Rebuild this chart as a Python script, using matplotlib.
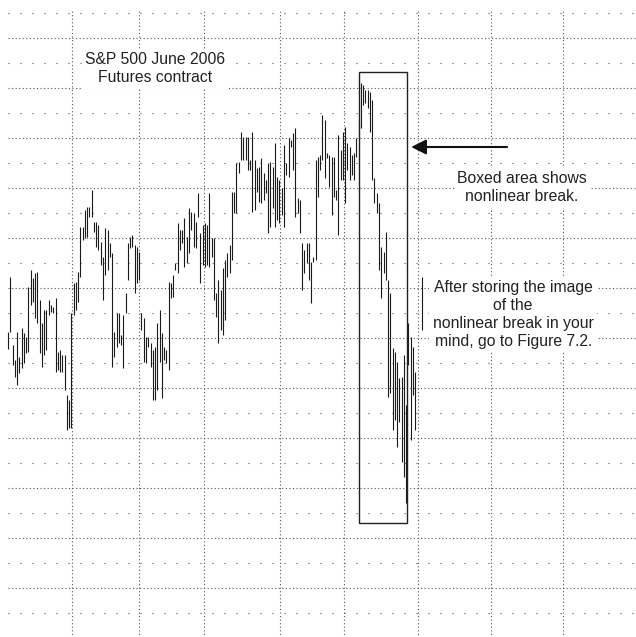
import numpy as np
import matplotlib.pyplot as plt

plt.rcParams['font.family'] = ['Liberation Sans', 'DejaVu Sans']

# daily bars, S&P 500 June 2006 futures, nan = no bar
highs = [1291.2, 1302.2, 1288.6, 1285.6, 1291.2, 1286.2, 1292.0, 1291.0, 1290.2, 1300.2,
         1303.6, 1302.0, 1303.0, 1303.2, 1297.6, 1293.0, 1295.6, 1295.6, 1297.6, 1296.6,
         1296.2, 1298.0, 1287.2, 1287.6, 1286.6, 1286.6, 1278.6, 1277.6, 1295.0,
         1301.0, 1301.2, 1303.2, 1312.2, 1312.2, 1315.6, 1316.2, 1316.2, 1319.6, 1313.2,
         1313.2, 1312.6, 1309.2, 1306.2, 1312.0, 1311.6, 1309.0, 1307.0, 1291.2, 1295.0,
         1295.0, 1290.6, 1294.6, 1299.0, 1309.0, 1310.2, 1310.6, 1308.6, 1308.2, 1307.2,
         1295.0, 1294.0, 1290.2, 1290.2, 1289.0, 1287.6, 1288.2, 1293.0, 1295.6, 1291.0,
         1288.2, 1287.6, 1301.2, 1301.0, 1302.6, 1305.0, 1313.0, 1311.6, 1311.6, 1314.0,
         1310.2, 1316.0, 1315.2, 1315.0, 1313.2, 1319.0, 1311.0, 1312.6, 1313.0, 1312.6,
         1319.0, 1310.0, 1310.0, 1299.0, 1301.6,
         1299.6, 1304.0, 1305.6, 1307.0, 1308.6, 1319.2, 1319.2, 1325.0, 1325.2, 1331.2,
         1330.2, 1330.2, 1330.2, 1325.6, 1331.2, 1325.6, 1324.0, 1324.2, 1326.0, 1323.0,
         1321.6, 1325.0, 1325.2, 1324.2, 1329.0, 1322.2, 1321.6, 1320.0, 1328.6, 1325.0,
         1330.0, 1329.6, 1331.0, 1332.0, 1318.0, 1317.6, 1309.0, 1307.6, 1309.0, 1309.0,
         1305.2, 1306.2, 1325.6, 1326.2, 1326.6, 1334.6, 1333.6, 1327.0, 1326.6, 1326.2,
         1326.2, 1319.6, 1330.6, 1327.6, 1331.2, 1332.2, 1329.0, 1328.2, 1326.6, 1327.0,
         1330.0, 1333.2,
         1341.0, 1340.6, 1339.6, 1339.6, 1339.2, 1337.6, 1322.0, 1319.0, 1317.0, 1308.2,
         1307.2, 1311.2, 1301.6, 1299.0, 1288.0, 1287.2, 1285.2, 1282.0, 1282.2, 1286.6,
         1276.6,
         1293.0, 1290.2, 1288.2, 1283.2, np.nan, np.nan, 1302.2]

lows = [1287.8, 1291.2, 1284.6, 1282.2, 1280.6, 1283.0, 1284.0, 1285.0, 1287.0, 1287.2,
        1296.6, 1297.2, 1294.0, 1293.0, 1287.0, 1284.2, 1286.6, 1287.6, 1294.6, 1295.2,
        1295.0, 1283.2, 1283.6, 1283.2, 1283.2, 1279.6, 1271.6, 1272.0, 1272.0,
        1294.6, 1295.6, 1297.2, 1302.2, 1309.6, 1310.0, 1310.2, 1314.2, 1314.2, 1311.2,
        1308.2, 1307.6, 1304.6, 1297.6, 1302.6, 1303.6, 1306.2, 1284.2, 1286.2, 1288.2,
        1289.0, 1288.6, 1284.0, 1295.0, 1301.6, 1308.0, 1308.2, 1299.0, 1301.0, 1301.6,
        1291.6, 1285.2, 1285.0, 1288.2, 1284.2, 1277.6, 1277.6, 1279.6, 1285.2, 1278.0,
        1285.6, 1285.0, 1283.6, 1298.0, 1298.2, 1303.6, 1303.0, 1307.6, 1309.0, 1304.2,
        1305.0, 1307.0, 1311.6, 1308.2, 1308.0, 1314.2, 1301.0, 1304.6, 1304.2, 1304.6,
        1304.2, 1306.2, 1297.6, 1294.2, 1289.0,
        1291.6, 1290.6, 1293.6, 1302.2, 1303.0, 1305.6, 1315.0, 1315.0, 1323.0, 1325.6,
        1325.6, 1325.6, 1323.6, 1323.6, 1315.2, 1315.6, 1319.2, 1317.2, 1317.0, 1317.6,
        1319.0, 1311.0, 1312.2, 1316.0, 1312.2, 1313.6, 1313.0, 1314.6, 1312.2, 1322.6,
        1322.2, 1328.2, 1323.6, 1314.2, 1315.0, 1311.0, 1299.6, 1303.0, 1305.0, 1301.6,
        1297.0, 1305.2, 1305.6, 1318.2, 1323.6, 1325.6, 1322.0, 1326.0, 1320.2, 1314.6,
        1318.2, 1317.6, 1310.6, 1321.6, 1321.6, 1317.0, 1323.6, 1321.6, 1322.6, 1321.6,
        1326.2, 1331.6,
        1332.0, 1336.6, 1337.0, 1336.0, 1331.2, 1321.6, 1317.0, 1315.0, 1303.6, 1298.0,
        1303.0, 1301.6, 1278.2, 1279.0, 1271.6, 1273.6, 1268.2, 1273.2, 1265.2, 1262.2,
        1257.0,
        1284.6, 1269.6, 1278.6, 1271.6, np.nan, np.nan, 1291.6]

# dotted vertical dividers (bar index units)
month_marks = [28.3, 57.9, 86.6, 120.2, 148.5, 181.3, 213.5, 245.4]
major_levels = list(range(1240, 1351, 10))
minor_levels = list(range(1235, 1356, 10))

# highlighted region
box_x = (155.3, 176.5)
box_y = (1253.0, 1343.2)

fig = plt.figure(figsize=(6.36, 6.37), dpi=100)
ax = fig.add_axes([0, 0, 1, 1])
ax.set_xlim(-3.54, 277.6)
ax.set_ylim(1230.2, 1357.6)
ax.axis('off')

grid_col = '#555555'
ax.hlines(major_levels, -0.1, 277.6, colors=grid_col, linewidth=0.8,
          linestyles=[(0, (1, 2.2))], zorder=1)
ax.hlines(minor_levels, -0.1, 277.6, colors=grid_col, linewidth=0.8,
          linestyles=[(0, (1, 9.8))], zorder=1)
ax.vlines(month_marks, 1225, 1355.6, colors=grid_col, linewidth=0.8,
          linestyles=[(0, (1, 2.2))], zorder=1)

x = np.arange(len(highs))
ax.vlines(x, lows, highs, colors='#1a1a1a', linewidth=0.8, zorder=2)

ax.add_patch(plt.Rectangle((box_x[0], box_y[0]), box_x[1] - box_x[0], box_y[1] - box_y[0],
                           fill=False, edgecolor='#222222', linewidth=1.0, zorder=3))

ax.annotate('', xy=(178.2, 1328.2), xytext=(220.6, 1328.2),
            arrowprops=dict(arrowstyle='-|>,head_length=0.9,head_width=0.45',
                            color='#111111', lw=1.5, shrinkA=0, shrinkB=0), zorder=4)

box = dict(facecolor='white', edgecolor='none', pad=2.5)
ax.text(65, 1343.8, 'S&P 500 June 2006\nFutures contract', ha='center', va='center',
        fontsize=11.3, linespacing=1.25, color='#222222', bbox=box, zorder=4)
ax.text(227.2, 1320.0, 'Boxed area shows\nnonlinear break.', ha='center', va='center',
        fontsize=11.3, linespacing=1.25, color='#222222', bbox=box, zorder=4)
ax.text(223.3, 1294.7, 'After storing the image\nof the\nnonlinear break in your\nmind, go to Figure 7.2.',
        ha='center', va='center', fontsize=11.3, linespacing=1.25, color='#222222',
        bbox=box, zorder=4)

fig.savefig('out.png', dpi=100, facecolor='white')
